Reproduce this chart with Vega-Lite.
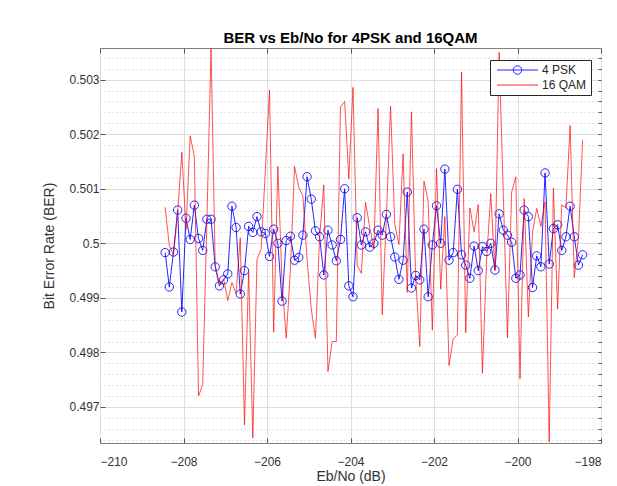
{
  "$schema": "https://vega.github.io/schema/vega-lite/v6.json",
  "width": 501,
  "height": 395,
  "autosize": {"type": "none"},
  "padding": {"left": 100, "top": 48, "right": 16, "bottom": 43},
  "background": "white",
  "title": {"text": "BER vs Eb/No for 4PSK and 16QAM", "fontSize": 15, "fontWeight": "bold", "font": "Liberation Sans", "color": "#000000", "offset": 2, "anchor": "middle"},
  "config": {
    "view": {"stroke": "#808080", "strokeWidth": 1},
    "font": "Liberation Sans",
    "axis": {"labelFont": "Liberation Sans", "labelFontSize": 12, "labelColor": "#333333", "titleFont": "Liberation Sans", "titleFontSize": 14, "titleFontWeight": "normal", "titleColor": "#333333", "domain": false, "tickColor": "#555555"}
  },
  "data": {"values": [
    {"x": -208.44, "4 PSK": 0.49983, "16 QAM": 0.50066},
    {"x": -208.34, "4 PSK": 0.49920, "16 QAM": 0.49996},
    {"x": -208.24, "4 PSK": 0.49984, "16 QAM": 0.49979},
    {"x": -208.14, "4 PSK": 0.50061, "16 QAM": 0.50055},
    {"x": -208.04, "4 PSK": 0.49874, "16 QAM": 0.50167},
    {"x": -207.94, "4 PSK": 0.50046, "16 QAM": 0.50025},
    {"x": -207.84, "4 PSK": 0.50007, "16 QAM": 0.50197},
    {"x": -207.74, "4 PSK": 0.50070, "16 QAM": 0.50159},
    {"x": -207.64, "4 PSK": 0.50009, "16 QAM": 0.49720},
    {"x": -207.54, "4 PSK": 0.49987, "16 QAM": 0.49741},
    {"x": -207.44, "4 PSK": 0.50044, "16 QAM": 0.50040},
    {"x": -207.34, "4 PSK": 0.50044, "16 QAM": 0.50357},
    {"x": -207.24, "4 PSK": 0.49957, "16 QAM": 0.49960},
    {"x": -207.14, "4 PSK": 0.49922, "16 QAM": 0.49923},
    {"x": -207.04, "4 PSK": 0.49933, "16 QAM": 0.49935},
    {"x": -206.94, "4 PSK": 0.49944, "16 QAM": 0.49895},
    {"x": -206.84, "4 PSK": 0.50068, "16 QAM": 0.49928},
    {"x": -206.74, "4 PSK": 0.50029, "16 QAM": 0.49908},
    {"x": -206.64, "4 PSK": 0.49907, "16 QAM": 0.50010},
    {"x": -206.54, "4 PSK": 0.49950, "16 QAM": 0.49667},
    {"x": -206.44, "4 PSK": 0.50031, "16 QAM": 0.49950},
    {"x": -206.34, "4 PSK": 0.50020, "16 QAM": 0.49643},
    {"x": -206.24, "4 PSK": 0.50049, "16 QAM": 0.49970},
    {"x": -206.14, "4 PSK": 0.50021, "16 QAM": 0.49990},
    {"x": -206.04, "4 PSK": 0.50018, "16 QAM": 0.50133},
    {"x": -205.94, "4 PSK": 0.49976, "16 QAM": 0.50281},
    {"x": -205.84, "4 PSK": 0.50026, "16 QAM": 0.49837},
    {"x": -205.74, "4 PSK": 0.50000, "16 QAM": 0.50141},
    {"x": -205.64, "4 PSK": 0.49894, "16 QAM": 0.49930},
    {"x": -205.54, "4 PSK": 0.50005, "16 QAM": 0.49826},
    {"x": -205.44, "4 PSK": 0.50013, "16 QAM": 0.49950},
    {"x": -205.34, "4 PSK": 0.49969, "16 QAM": 0.50141},
    {"x": -205.24, "4 PSK": 0.49974, "16 QAM": 0.50103},
    {"x": -205.14, "4 PSK": 0.50015, "16 QAM": 0.50086},
    {"x": -205.04, "4 PSK": 0.50122, "16 QAM": 0.49970},
    {"x": -204.94, "4 PSK": 0.50081, "16 QAM": 0.49880},
    {"x": -204.84, "4 PSK": 0.50023, "16 QAM": 0.49826},
    {"x": -204.74, "4 PSK": 0.50012, "16 QAM": 0.50010},
    {"x": -204.64, "4 PSK": 0.49942, "16 QAM": 0.50107},
    {"x": -204.54, "4 PSK": 0.50024, "16 QAM": 0.49765},
    {"x": -204.44, "4 PSK": 0.49997, "16 QAM": 0.49820},
    {"x": -204.34, "4 PSK": 0.49968, "16 QAM": 0.49820},
    {"x": -204.24, "4 PSK": 0.50007, "16 QAM": 0.50250},
    {"x": -204.14, "4 PSK": 0.50100, "16 QAM": 0.50260},
    {"x": -204.04, "4 PSK": 0.49922, "16 QAM": 0.50118},
    {"x": -203.94, "4 PSK": 0.49902, "16 QAM": 0.50286},
    {"x": -203.84, "4 PSK": 0.50047, "16 QAM": 0.49960},
    {"x": -203.74, "4 PSK": 0.49997, "16 QAM": 0.49945},
    {"x": -203.64, "4 PSK": 0.50021, "16 QAM": 0.50075},
    {"x": -203.54, "4 PSK": 0.49993, "16 QAM": 0.50030},
    {"x": -203.44, "4 PSK": 0.50000, "16 QAM": 0.49990},
    {"x": -203.34, "4 PSK": 0.50024, "16 QAM": 0.50247},
    {"x": -203.24, "4 PSK": 0.50015, "16 QAM": 0.49869},
    {"x": -203.14, "4 PSK": 0.50053, "16 QAM": 0.50050},
    {"x": -203.04, "4 PSK": 0.50012, "16 QAM": 0.50251},
    {"x": -202.94, "4 PSK": 0.49975, "16 QAM": 0.50035},
    {"x": -202.84, "4 PSK": 0.49934, "16 QAM": 0.49998},
    {"x": -202.74, "4 PSK": 0.49969, "16 QAM": 0.50164},
    {"x": -202.64, "4 PSK": 0.50094, "16 QAM": 0.49910},
    {"x": -202.54, "4 PSK": 0.49918, "16 QAM": 0.50241},
    {"x": -202.44, "4 PSK": 0.49941, "16 QAM": 0.49940},
    {"x": -202.34, "4 PSK": 0.49933, "16 QAM": 0.49811},
    {"x": -202.24, "4 PSK": 0.50026, "16 QAM": 0.50114},
    {"x": -202.14, "4 PSK": 0.49902, "16 QAM": 0.50077},
    {"x": -202.04, "4 PSK": 0.49997, "16 QAM": 0.49841},
    {"x": -201.94, "4 PSK": 0.50069, "16 QAM": 0.50137},
    {"x": -201.84, "4 PSK": 0.50000, "16 QAM": 0.49916},
    {"x": -201.74, "4 PSK": 0.50136, "16 QAM": 0.50049},
    {"x": -201.64, "4 PSK": 0.49969, "16 QAM": 0.49776},
    {"x": -201.54, "4 PSK": 0.49983, "16 QAM": 0.49825},
    {"x": -201.44, "4 PSK": 0.50099, "16 QAM": 0.49832},
    {"x": -201.34, "4 PSK": 0.49979, "16 QAM": 0.50314},
    {"x": -201.24, "4 PSK": 0.49960, "16 QAM": 0.49836},
    {"x": -201.14, "4 PSK": 0.49936, "16 QAM": 0.50065},
    {"x": -201.04, "4 PSK": 0.49995, "16 QAM": 0.50021},
    {"x": -200.94, "4 PSK": 0.49950, "16 QAM": 0.50071},
    {"x": -200.84, "4 PSK": 0.49994, "16 QAM": 0.49762},
    {"x": -200.74, "4 PSK": 0.49985, "16 QAM": 0.49970},
    {"x": -200.64, "4 PSK": 0.50000, "16 QAM": 0.50091},
    {"x": -200.54, "4 PSK": 0.49951, "16 QAM": 0.49950},
    {"x": -200.44, "4 PSK": 0.50054, "16 QAM": 0.50350},
    {"x": -200.34, "4 PSK": 0.50024, "16 QAM": 0.50090},
    {"x": -200.24, "4 PSK": 0.50015, "16 QAM": 0.49827},
    {"x": -200.14, "4 PSK": 0.50002, "16 QAM": 0.50094},
    {"x": -200.04, "4 PSK": 0.49936, "16 QAM": 0.50122},
    {"x": -199.94, "4 PSK": 0.49942, "16 QAM": 0.49752},
    {"x": -199.84, "4 PSK": 0.50061, "16 QAM": 0.50082},
    {"x": -199.74, "4 PSK": 0.50049, "16 QAM": 0.49865},
    {"x": -199.64, "4 PSK": 0.49919, "16 QAM": 0.50020},
    {"x": -199.54, "4 PSK": 0.49977, "16 QAM": 0.50064},
    {"x": -199.44, "4 PSK": 0.49957, "16 QAM": 0.50031},
    {"x": -199.34, "4 PSK": 0.50129, "16 QAM": 0.50076},
    {"x": -199.24, "4 PSK": 0.49962, "16 QAM": 0.49636},
    {"x": -199.14, "4 PSK": 0.50027, "16 QAM": 0.50101},
    {"x": -199.04, "4 PSK": 0.50034, "16 QAM": 0.49880},
    {"x": -198.94, "4 PSK": 0.49987, "16 QAM": 0.50070},
    {"x": -198.84, "4 PSK": 0.50012, "16 QAM": 0.50065},
    {"x": -198.74, "4 PSK": 0.50068, "16 QAM": 0.50216},
    {"x": -198.64, "4 PSK": 0.50012, "16 QAM": 0.49937},
    {"x": -198.54, "4 PSK": 0.49960, "16 QAM": 0.50010},
    {"x": -198.44, "4 PSK": 0.49979, "16 QAM": 0.50189}
  ]},
  "transform": [{"fold": ["4 PSK", "16 QAM"], "as": ["series", "ber"]}],
  "layer": [
    {
      "transform": [{"filter": "datum.series === '4 PSK'"}],
      "mark": {"type": "line", "strokeWidth": 1, "opacity": 0.85, "clip": true},
      "encoding": {
        "x": {"field": "x", "type": "quantitative", "scale": {"domain": [-210, -198], "nice": false, "zero": false},
          "axis": {"title": "Eb/No (dB)", "values": [-210, -208, -206, -204, -202, -200, -198], "grid": true, "gridColor": "#dedede", "tickSize": -5, "labelPadding": 18, "titlePadding": 2}},
        "y": {"field": "ber", "type": "quantitative", "scale": {"domain": [0.49634, 0.50358], "nice": false, "zero": false},
          "axis": {"title": "Bit Error Rate (BER)", "values": [0.497, 0.498, 0.499, 0.5, 0.501, 0.502, 0.503], "labelExpr": "format(datum.value, '.3~f')", "grid": true, "gridColor": "#dedede", "tickSize": -5, "labelPadding": 6, "titlePadding": 12}},
        "color": {"field": "series", "type": "nominal", "scale": {"domain": ["4 PSK", "16 QAM"], "range": ["#0000ff", "#ff0000"]},
          "legend": {"title": null, "orient": "none", "legendX": 390, "legendY": 12, "fillColor": "white", "strokeColor": "#262626", "padding": 4, "labelFontSize": 12, "labelColor": "#262626", "labelFont": "Liberation Sans", "rowPadding": 2, "labelOffset": 36, "symbolSize": 100, "symbolStrokeWidth": 1,
            "encoding": {"symbols": {
              "shape": {"value": {"expr": "datum.value === '4 PSK' ? 'M-0.6,0L7.6,0M4.35,0A0.85,0.85 0 1,1 2.65,0A0.85,0.85 0 1,1 4.35,0' : 'M-0.6,0L7.6,0'"}},
              "fill": {"value": "transparent"}
            }}}}
      }
    },
    {
      "transform": [{"filter": "datum.series === '4 PSK'"}],
      "mark": {"type": "point", "filled": false, "size": 70, "strokeWidth": 1, "opacity": 0.85, "clip": true},
      "encoding": {
        "x": {"field": "x", "type": "quantitative", "scale": {"domain": [-210, -198], "nice": false, "zero": false},
          "axis": {"orient": "top", "title": null, "labels": false, "grid": false, "values": [-210, -208, -206, -204, -202, -200, -198], "tickSize": -5}},
        "y": {"field": "ber", "type": "quantitative", "scale": {"domain": [0.49634, 0.50358], "nice": false, "zero": false},
          "axis": {"title": null, "labels": false, "grid": true, "gridColor": "#c8c8c8", "gridDash": [1, 3], "tickSize": -2.5,
            "values": [0.4964, 0.4966, 0.4968, 0.4972, 0.4974, 0.4976, 0.4978, 0.4982, 0.4984, 0.4986, 0.4988, 0.4992, 0.4994, 0.4996, 0.4998, 0.5002, 0.5004, 0.5006, 0.5008, 0.5012, 0.5014, 0.5016, 0.5018, 0.5022, 0.5024, 0.5026, 0.5028, 0.5032, 0.5034]}},
        "color": {"field": "series", "type": "nominal", "scale": {"domain": ["4 PSK", "16 QAM"], "range": ["#0000ff", "#ff0000"]}}
      }
    },
    {
      "transform": [{"filter": "datum.series === '16 QAM'"}],
      "mark": {"type": "line", "strokeWidth": 0.8, "opacity": 0.85, "clip": true},
      "encoding": {
        "x": {"field": "x", "type": "quantitative", "scale": {"domain": [-210, -198], "nice": false, "zero": false}, "axis": null},
        "y": {"field": "ber", "type": "quantitative", "scale": {"domain": [0.49634, 0.50358], "nice": false, "zero": false},
          "axis": {"orient": "right", "title": null, "labels": false, "grid": false, "tickSize": -3,
            "values": [0.4964, 0.4966, 0.4968, 0.497, 0.4972, 0.4974, 0.4976, 0.4978, 0.498, 0.4982, 0.4984, 0.4986, 0.4988, 0.499, 0.4992, 0.4994, 0.4996, 0.4998, 0.5, 0.5002, 0.5004, 0.5006, 0.5008, 0.501, 0.5012, 0.5014, 0.5016, 0.5018, 0.502, 0.5022, 0.5024, 0.5026, 0.5028, 0.503, 0.5032, 0.5034]}},
        "color": {"field": "series", "type": "nominal", "scale": {"domain": ["4 PSK", "16 QAM"], "range": ["#0000ff", "#ff0000"]}}
      }
    }
  ],
  "resolve": {"axis": {"x": "independent", "y": "independent"}}
}
